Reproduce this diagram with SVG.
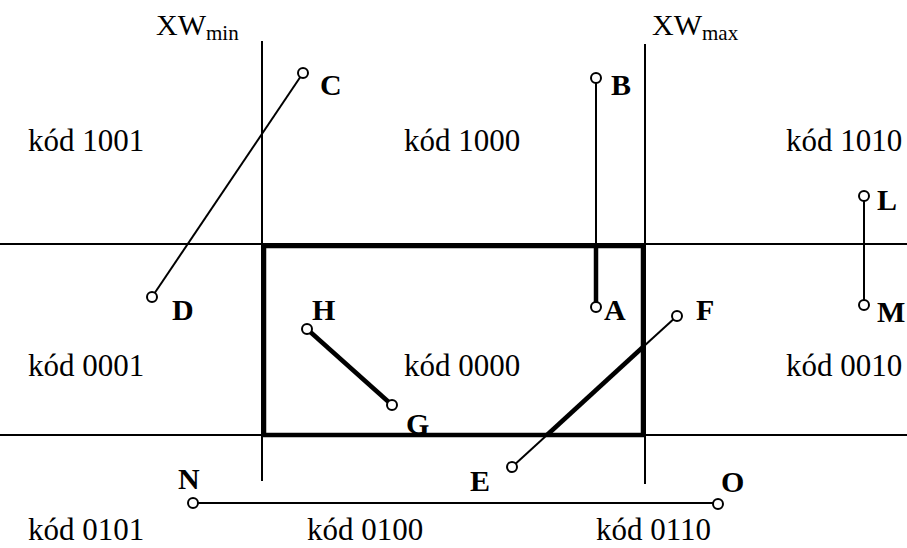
<svg xmlns="http://www.w3.org/2000/svg" width="907" height="548" viewBox="0 0 907 548">
<style>
.thin{stroke:#000;stroke-width:2;fill:none}
.thick{stroke:#000;stroke-width:4.5;fill:none}
.pt{stroke:#000;stroke-width:2;fill:#fff}
.reg{font-family:"Liberation Serif",serif;font-size:31px;fill:#000}
.lbl{font-family:"Liberation Serif",serif;font-size:30px;font-weight:bold;fill:#000}
.xw{font-family:"Liberation Serif",serif;font-size:30px;fill:#000}
.sub{font-size:21px}
</style>
<rect width="907" height="548" fill="#fff"/>
<g id="grid">
<line class="thin" x1="262" y1="41" x2="262" y2="481"/>
<line class="thin" x1="645" y1="44" x2="645" y2="484"/>
<line class="thin" x1="0" y1="244" x2="907" y2="244"/>
<line class="thin" x1="0" y1="435" x2="907" y2="435"/>
</g>
<g id="window">
<rect class="thick" x="264" y="246" width="379" height="189"/>
</g>
<g id="connectors">
<line class="thin" x1="303" y1="73" x2="152" y2="297"/>
<line class="thin" x1="596" y1="78" x2="596" y2="246"/>
<line class="thick" x1="596" y1="246" x2="596" y2="303"/>
<line class="thin" x1="864" y1="196" x2="864" y2="305"/>
<line class="thin" x1="677" y1="316" x2="643" y2="347"/>
<line class="thick" x1="643" y1="347" x2="547" y2="435"/>
<line class="thin" x1="547" y1="435" x2="512" y2="467"/>
<line class="thick" x1="307" y1="329" x2="392" y2="405"/>
<line class="thin" x1="193" y1="503" x2="718" y2="503"/>
</g>
<g id="point-C"><circle class="pt" cx="303" cy="73" r="5"/><text class="lbl" x="320" y="95">C</text></g>
<g id="point-D"><circle class="pt" cx="152" cy="297" r="5"/><text class="lbl" x="172" y="320">D</text></g>
<g id="point-B"><circle class="pt" cx="596" cy="78" r="5"/><text class="lbl" x="611" y="95">B</text></g>
<g id="point-A"><circle class="pt" cx="596" cy="307" r="5"/><text class="lbl" x="604" y="320">A</text></g>
<g id="point-L"><circle class="pt" cx="864" cy="196" r="5"/><text class="lbl" x="877" y="210">L</text></g>
<g id="point-M"><circle class="pt" cx="864" cy="305" r="5"/><text class="lbl" x="877" y="322">M</text></g>
<g id="point-F"><circle class="pt" cx="677" cy="316" r="5"/><text class="lbl" x="696" y="320">F</text></g>
<g id="point-E"><circle class="pt" cx="512" cy="467" r="5"/><text class="lbl" x="470" y="491">E</text></g>
<g id="point-H"><circle class="pt" cx="307" cy="329" r="5"/><text class="lbl" x="312" y="320">H</text></g>
<g id="point-G"><circle class="pt" cx="392" cy="405" r="5"/><text class="lbl" x="406" y="434">G</text></g>
<g id="point-N"><circle class="pt" cx="193" cy="503" r="5"/><text class="lbl" x="178" y="489">N</text></g>
<g id="point-O"><circle class="pt" cx="718" cy="504" r="5"/><text class="lbl" x="721" y="492">O</text></g>
<g id="xwmin"><text class="xw" x="156" y="35">XW<tspan class="sub" dy="5">min</tspan></text></g>
<g id="xwmax"><text class="xw" x="652" y="35">XW<tspan class="sub" dy="5">max</tspan></text></g>
<g id="regions">
<text class="reg" x="28" y="151">kód 1001</text>
<text class="reg" x="404" y="151">kód 1000</text>
<text class="reg" x="786" y="151">kód 1010</text>
<text class="reg" x="28" y="376">kód 0001</text>
<text class="reg" x="404" y="376">kód 0000</text>
<text class="reg" x="786" y="376">kód 0010</text>
<text class="reg" x="28" y="540">kód 0101</text>
<text class="reg" x="307" y="540">kód 0100</text>
<text class="reg" x="596" y="540">kód 0110</text>
</g>
</svg>
